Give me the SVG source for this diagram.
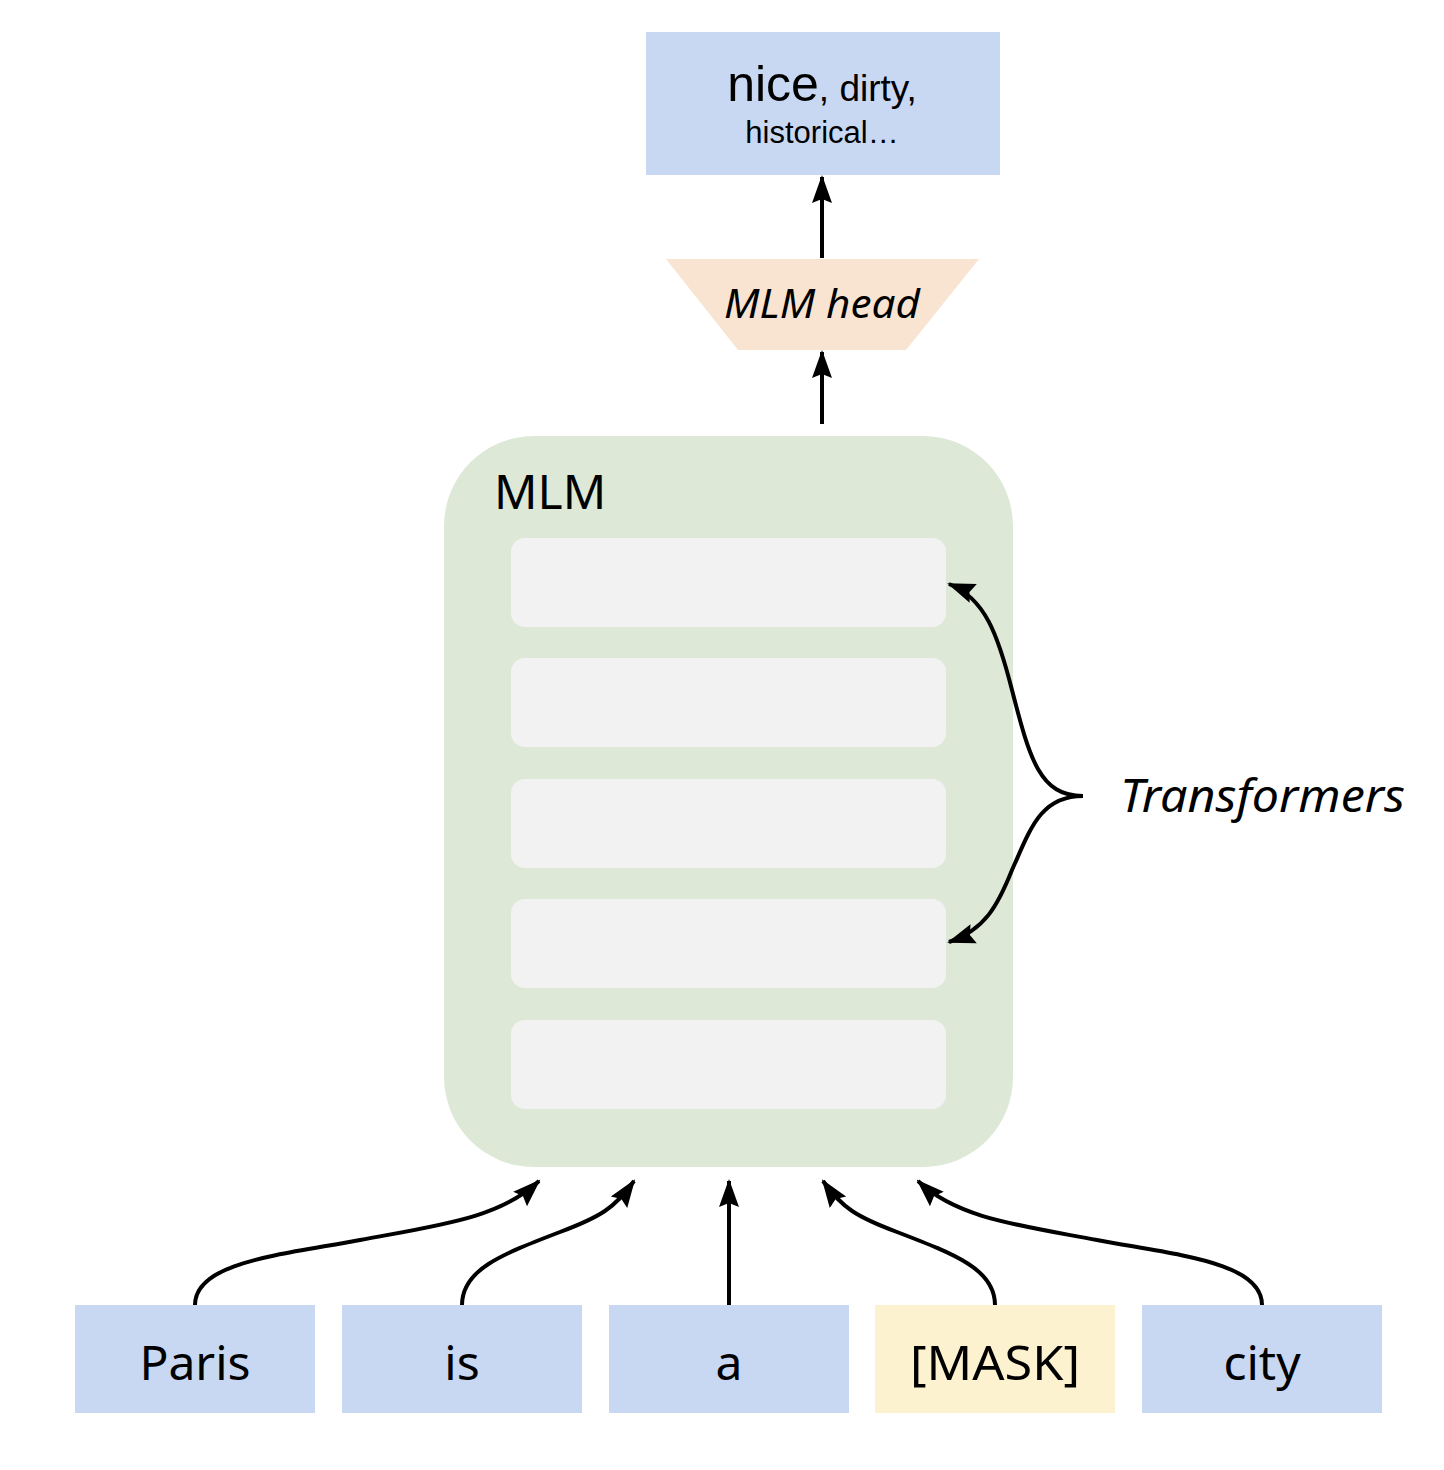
<svg xmlns="http://www.w3.org/2000/svg" width="1444" height="1470" viewBox="0 0 1444 1470">
<style>
.tok{fill:#c9d8f2}
.mask{fill:#fcf2d0}
.layer{fill:#f2f2f2}
.t{font-family:"Noto Sans","Open Sans",sans-serif;fill:#000}
.conn{fill:none;stroke:#000;stroke-width:4}
</style>
<defs>
<marker id="ah" markerUnits="userSpaceOnUse" markerWidth="28" markerHeight="22" viewBox="0 0 28 22" refX="26" refY="11" orient="auto">
<path d="M0,1 L28,11 L0,21 L4,11 Z" fill="#000"/>
</marker>
</defs>
<rect width="1444" height="1470" fill="#fff"/>
<g id="output">
<rect x="646" y="32" width="354" height="143" class="tok"/>
<text x="822" y="101" text-anchor="middle" font-family="Liberation Sans, Arial, sans-serif"><tspan font-size="50">nice</tspan><tspan font-size="37">, dirty,</tspan></text>
<text x="822" y="143" text-anchor="middle" font-family="Liberation Sans, Arial, sans-serif" font-size="31">historical…</text>
</g>
<g id="mlm-head">
<polygon points="666,259 979,259 906,350 738,350" fill="#f8e4d0"/>
<text x="822" y="318" text-anchor="middle" class="t" font-size="40" font-style="italic" textLength="196" lengthAdjust="spacingAndGlyphs">MLM head</text>
</g>
<g id="mlm">
<rect x="444" y="436" width="569" height="731" rx="90" ry="90" fill="#dde9d6"/>
<text x="494" y="509" class="t" font-size="48">MLM</text>
<rect id="layer1" x="511" y="538" width="435" height="89" rx="14" class="layer"/>
<rect id="layer2" x="511" y="658" width="435" height="89" rx="14" class="layer"/>
<rect id="layer3" x="511" y="779" width="435" height="89" rx="14" class="layer"/>
<rect id="layer4" x="511" y="899" width="435" height="89" rx="14" class="layer"/>
<rect id="layer5" x="511" y="1020" width="435" height="89" rx="14" class="layer"/>
</g>
<g id="transformers-label">
<text x="1120" y="812" class="t" font-size="46" font-style="italic" textLength="285" lengthAdjust="spacingAndGlyphs">Transformers</text>
</g>
<g id="tok-paris"><rect x="75" y="1305" width="240" height="108" class="tok"/><text x="195" y="1380" text-anchor="middle" class="t" font-size="48">Paris</text></g>
<g id="tok-is"><rect x="342" y="1305" width="240" height="108" class="tok"/><text x="462" y="1380" text-anchor="middle" class="t" font-size="48">is</text></g>
<g id="tok-a"><rect x="609" y="1305" width="240" height="108" class="tok"/><text x="729" y="1380" text-anchor="middle" class="t" font-size="48">a</text></g>
<g id="tok-mask"><rect x="875" y="1305" width="240" height="108" class="mask"/><text x="995" y="1380" text-anchor="middle" class="t" font-size="48" textLength="170" lengthAdjust="spacingAndGlyphs">[MASK]</text></g>
<g id="tok-city"><rect x="1142" y="1305" width="240" height="108" class="tok"/><text x="1262" y="1380" text-anchor="middle" class="t" font-size="48">city</text></g>
<g id="connectors">
<path class="conn" d="M822,258 L822,177" marker-end="url(#ah)"/>
<path class="conn" d="M822,424 L822,352" marker-end="url(#ah)"/>
<path class="conn" d="M1083,796 C1040,796 1030,760 1012,690 C998,635 985,598 949,584" marker-end="url(#ah)"/>
<path class="conn" d="M1083,796 C1040,796 1030,830 1012,870 C998,905 985,930 949,942" marker-end="url(#ah)"/>
<path class="conn" d="M195,1305 C195,1262 280,1255 360,1240 C440,1225 500,1218 539,1181" marker-end="url(#ah)"/>
<path class="conn" d="M462,1305 C462,1270 500,1255 560,1232 C600,1217 615,1208 634,1181" marker-end="url(#ah)"/>
<path class="conn" d="M729,1305 L729,1181" marker-end="url(#ah)"/>
<path class="conn" d="M995,1305 C995,1270 957,1255 897,1232 C857,1217 842,1208 823,1181" marker-end="url(#ah)"/>
<path class="conn" d="M1262,1305 C1262,1262 1177,1255 1097,1240 C1017,1225 957,1218 918,1181" marker-end="url(#ah)"/>
</g>
</svg>
